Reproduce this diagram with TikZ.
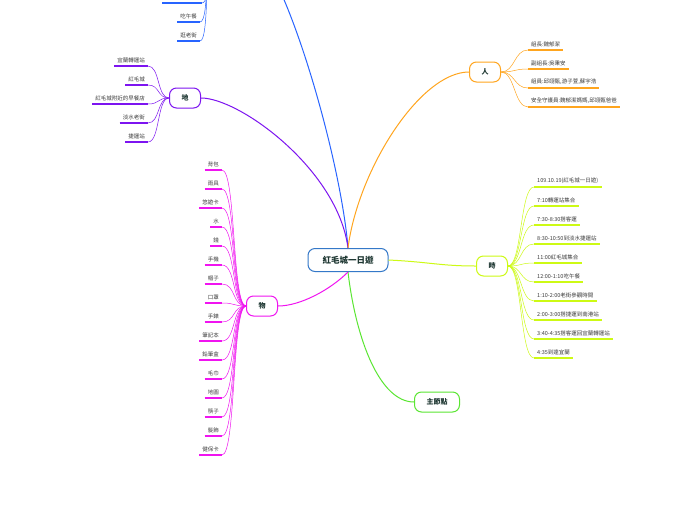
\documentclass[tikz,border=0pt]{standalone}
\usepackage{fontspec}
\setmainfont{Noto Sans CJK TC}
\usetikzlibrary{positioning,calc}
\definecolor{rootblue}{RGB}{52,120,200}
\definecolor{eventblue}{RGB}{40,100,255}
\definecolor{renorange}{RGB}{255,165,30}
\definecolor{shilime}{RGB}{205,250,20}
\definecolor{maingreen}{RGB}{90,230,50}
\definecolor{wumagenta}{RGB}{240,20,240}
\definecolor{dipurple}{RGB}{125,20,240}
\definecolor{inkteal}{RGB}{30,55,50}
\definecolor{leafgray}{RGB}{60,60,60}

\tikzset{
    topic/.style={draw=#1, line width=1pt, rounded corners=7pt, fill=white,
        minimum width=31pt, minimum height=20pt, inner sep=2pt,
        font=\fontsize{7}{8}\selectfont\bfseries, text=inkteal},
    leaf/.style={inner xsep=3pt, inner ysep=3pt,
        font=\fontsize{5.5}{6}\selectfont, text=leafgray},
    branch/.style={draw=#1, line width=1pt},
    twig/.style={draw=#1, line width=0.5pt},
    rule/.style={draw=#1, line width=1.3pt}
}

\begin{document}
\begin{tikzpicture}[x=1pt,y=-1pt]
    \fill[white] (0,0) rectangle (696,520);
    \useasboundingbox (0,0) rectangle (696,520);

    % Topics
    \node[topic=rootblue, minimum width=80pt, minimum height=23pt,
          font=\fontsize{8.5}{10}\selectfont\bfseries] (root) at (348,260) {紅毛城一日遊};
    \node[topic=renorange] (ren) at (485,72) {人};
    \node[topic=shilime] (shi) at (492,266) {時};
    \node[topic=maingreen, minimum width=45pt] (main) at (437,402) {主節點};
    \node[topic=wumagenta] (wu) at (262,306) {物};
    \node[topic=dipurple] (di) at (185,98) {地};
    % the event topic sits above the page
    \coordinate (evtE) at (246,-55);
    \coordinate (evtW) at (214,-55);

    % Branches
    \draw[branch=eventblue] (root.north) .. controls (340,150) and (278,-55) .. (evtE);
    \draw[branch=dipurple] (root.north) .. controls (338,170) and (240,98) .. (di.east);
    \draw[branch=renorange] (root.north) .. controls (358,170) and (420,72) .. (ren.west);
    \draw[branch=shilime] (root.east) .. controls (430,262) and (440,266) .. (shi.west);
    \draw[branch=maingreen] (root.south) .. controls (356,340) and (380,402) .. (main.west);
    \draw[branch=wumagenta] (root.south) .. controls (330,290) and (300,306) .. (wu.east);

    % People
    \foreach \txt [count=\i] in {組長:魏郁潔, 副組長:吳秉安, {組員:邱翊甄,游子萱,蘇宇浩}, {安全守護員:魏郁潔媽媽,邱翊甄爸爸}} {
        \node[leaf, anchor=south west] (ren\i) at (528,{31+19*\i}) {\txt};
        \draw[rule=renorange] (ren\i.south west) -- (ren\i.south east);
        \draw[twig=renorange] (ren.east) .. controls +(14,0) and +(-14,0) .. (ren\i.south west);
    }

    % Time
    \foreach \txt [count=\i] in {109.10.19(紅毛城一日遊), 7:10轉運站集合, 7:30-8:30搭客運, 8:30-10:50到淡水捷運站, 11:00紅毛城集合, 12:00-1:10吃午餐, 1:10-2:00老街參觀時間, 2:00-3:00搭捷運到南港站, 3:40-4:35搭客運回宜蘭轉運站, 4:35到達宜蘭} {
        \node[leaf, anchor=south west] (shi\i) at (534,{168+19*\i}) {\txt};
        \draw[rule=shilime] (shi\i.south west) -- (shi\i.south east);
        \draw[twig=shilime] (shi.east) .. controls +(14,0) and +(-14,0) .. (shi\i.south west);
    }

    % Things
    \foreach \txt [count=\i] in {背包, 雨具, 悠遊卡, 水, 錢, 手機, 帽子, 口罩, 手錶, 筆記本, 鉛筆盒, 毛巾, 地圖, 筷子, 髮飾, 健保卡} {
        \node[leaf, anchor=south east] (wu\i) at (222,{151+19*\i}) {\txt};
        \draw[rule=wumagenta] (wu\i.south west) -- (wu\i.south east);
        \draw[twig=wumagenta] (wu.west) .. controls +(-14,0) and +(14,0) .. (wu\i.south east);
    }

    % Places
    \foreach \txt [count=\i] in {宜蘭轉運站, 紅毛城, 紅毛城附近的早餐店, 淡水老街, 捷運站} {
        \node[leaf, anchor=south east] (di\i) at (148,{47+19*\i}) {\txt};
        \draw[rule=dipurple] (di\i.south west) -- (di\i.south east);
        \draw[twig=dipurple] (di.west) .. controls +(-12,0) and +(12,0) .. (di\i.south east);
    }

    % Events (cut by the top edge)
    \coordinate (evt1) at (202,3);
    \draw[rule=eventblue] (162,3) -- (evt1);
    \draw[twig=eventblue] (evtW) .. controls +(-10,0) and +(10,0) .. (evt1);
    \foreach \txt [count=\i from 2] in {吃午餐, 逛老街} {
        \node[leaf, anchor=south east] (evt\i) at (200,{-16+19*\i}) {\txt};
        \draw[rule=eventblue] (evt\i.south west) -- (evt\i.south east);
        \draw[twig=eventblue] (evtW) .. controls +(-10,0) and +(10,0) .. (evt\i.south east);
    }
\end{tikzpicture}
\end{document}
